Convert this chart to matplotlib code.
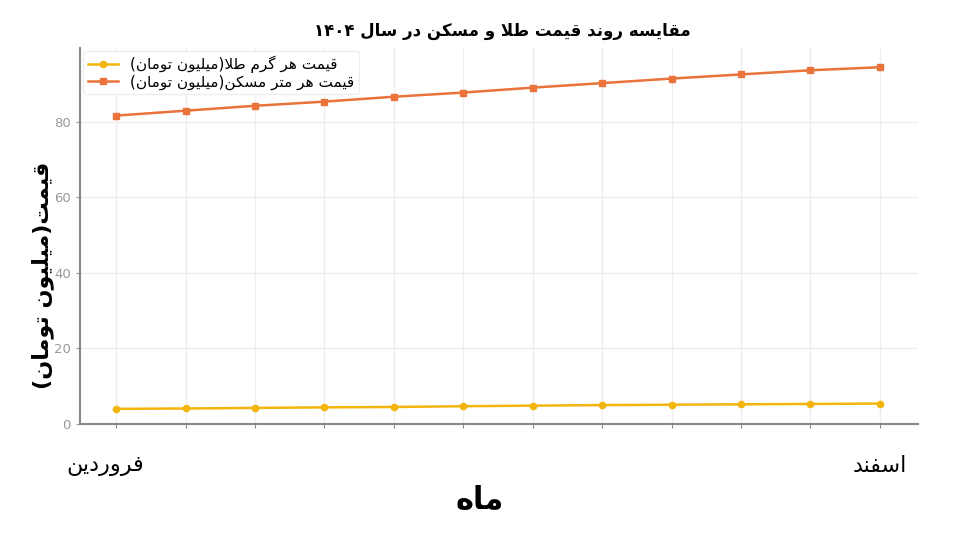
import numpy as np
import matplotlib
matplotlib.use('Agg')
import matplotlib.pyplot as plt

# data (million toman)
months = ['فروردین', 'اردیبهشت', 'خرداد', 'تیر', 'مرداد', 'شهریور',
          'مهر', 'آبان', 'آذر', 'دی', 'بهمن', 'اسفند']
gold_price = [4.0, 4.1, 4.25, 4.4, 4.5, 4.7, 4.85, 5.0, 5.1, 5.2, 5.3, 5.4]
house_price = [81.6, 82.9, 84.2, 85.3, 86.6, 87.7, 89.0, 90.2, 91.4, 92.5, 93.6, 94.4]
yticks = [0, 20, 40, 60, 80]

title = 'مقایسه روند قیمت طلا و مسکن در سال ۱۴۰۴'
gold_label = 'قیمت هر گرم طلا(میلیون تومان)'
house_label = 'قیمت هر متر مسکن(میلیون تومان)'
ylabel = 'قیمت(میلیون تومان)'
xlabel = 'ماه'


# small persian shaper: matplotlib has no arabic shaping / bidi
# forms: isolated, final, initial, medial
FORMS = {
    'ا': ('\uFE8D', '\uFE8E'),
    'آ': ('\uFE81', '\uFE82'),
    'ب': ('\uFE8F', '\uFE90', '\uFE91', '\uFE92'),
    'ت': ('\uFE95', '\uFE96', '\uFE97', '\uFE98'),
    'خ': ('\uFEA5', '\uFEA6', '\uFEA7', '\uFEA8'),
    'د': ('\uFEA9', '\uFEAA'),
    'ذ': ('\uFEAB', '\uFEAC'),
    'ر': ('\uFEAD', '\uFEAE'),
    'ز': ('\uFEAF', '\uFEB0'),
    'س': ('\uFEB1', '\uFEB2', '\uFEB3', '\uFEB4'),
    'ش': ('\uFEB5', '\uFEB6', '\uFEB7', '\uFEB8'),
    'ط': ('\uFEC1', '\uFEC2', '\uFEC3', '\uFEC4'),
    'ف': ('\uFED1', '\uFED2', '\uFED3', '\uFED4'),
    'ق': ('\uFED5', '\uFED6', '\uFED7', '\uFED8'),
    'ک': ('\uFB8E', '\uFB8F', '\uFB90', '\uFB91'),
    'گ': ('\uFB92', '\uFB93', '\uFB94', '\uFB95'),
    'ل': ('\uFEDD', '\uFEDE', '\uFEDF', '\uFEE0'),
    'م': ('\uFEE1', '\uFEE2', '\uFEE3', '\uFEE4'),
    'ن': ('\uFEE5', '\uFEE6', '\uFEE7', '\uFEE8'),
    'ه': ('\uFEE9', '\uFEEA', '\uFEEB', '\uFEEC'),
    'و': ('\uFEED', '\uFEEE'),
    'ی': ('\uFBFC', '\uFBFD', '\uFBFE', '\uFBFF'),
}
MIRROR = {'(': ')', ')': '('}


def joins_left(c):
    return c in FORMS and len(FORMS[c]) == 4


def shape(text):
    out = []
    i = 0
    n = len(text)
    while i < n:
        c = text[i]
        if c not in FORMS:
            out.append(c)
            i += 1
            continue
        prev_join = i > 0 and joins_left(text[i - 1])
        # lam-alef ligature
        if c == 'ل' and i + 1 < n and text[i + 1] == 'ا':
            out.append('\uFEFC' if prev_join else '\uFEFB')
            i += 2
            continue
        next_join = joins_left(c) and i + 1 < n and text[i + 1] in FORMS
        f = FORMS[c]
        if prev_join and next_join:
            out.append(f[3])
        elif prev_join:
            out.append(f[1])
        elif next_join:
            out.append(f[2])
        else:
            out.append(f[0])
        i += 1
    return ''.join(out)


def fa(text):
    s = shape(text)
    # split into digit runs and the rest, then reverse for visual order
    tokens = []
    for ch in s:
        is_digit = ch.isdigit()
        if tokens and tokens[-1][0] == is_digit:
            tokens[-1][1].append(ch)
        else:
            tokens.append((is_digit, [ch]))
    res = []
    for is_digit, chars in reversed(tokens):
        if is_digit:
            res.append(''.join(chars))
        else:
            res.append(''.join(MIRROR.get(c, c) for c in reversed(chars)))
    return ''.join(res)


plt.rcParams['font.family'] = ['DejaVu Sans']

gold_color = '#F3B50C'
house_color = '#E9733A'

fig = plt.figure(figsize=(9.6, 5.39), dpi=100)
ax = fig.add_axes([0.0833, 0.2134, 0.8730, 0.6976])

x = np.arange(len(months))
ax.plot(x, gold_price, color=gold_color, marker='o', markersize=4.5,
        linewidth=1.8, label=fa(gold_label))
ax.plot(x, house_price, color=house_color, marker='s', markersize=4.5,
        linewidth=1.8, label=fa(house_label))

ax.set_xlim(-0.52, 11.55)
ax.set_ylim(0, 99.5)
ax.set_yticks(yticks)
ax.set_xticks(x)
ax.set_xticklabels([''] * len(months))
ax.tick_params(axis='y', labelsize=9.5, colors='#999999', length=3)
ax.tick_params(axis='x', length=3, colors='#888888')

# only first and last month are labelled
ax.text(x[0] - 0.16, -11, fa(months[0]), ha='center', va='center',
        fontsize=16, transform=ax.transData)
ax.text(x[-1], -11, fa(months[-1]), ha='center', va='center',
        fontsize=16, transform=ax.transData)

ax.grid(True, color='#EEEEEE', linewidth=1)
ax.set_axisbelow(True)
for side in ['top', 'right']:
    ax.spines[side].set_visible(False)
for side in ['left', 'bottom']:
    ax.spines[side].set_color('#888888')
    ax.spines[side].set_linewidth(1.5)

fig.text(0.5, 0.072, fa(xlabel), ha='center', va='center',
         fontsize=22, fontweight='bold')
fig.text(0.044, 0.49, fa(ylabel), ha='center', va='center', rotation=90,
         fontsize=16, fontweight='bold')
fig.text(0.523, 0.942, fa(title), ha='center', va='center',
         fontsize=12, fontweight='bold')

leg = ax.legend(loc='upper left', fontsize=11, frameon=True,
                borderaxespad=0.2, handlelength=2, labelspacing=0.1,
                borderpad=0.3)
leg.get_frame().set_edgecolor('#EEEEEE')
leg.get_frame().set_alpha(1)

fig.savefig('out.png', dpi=100)
